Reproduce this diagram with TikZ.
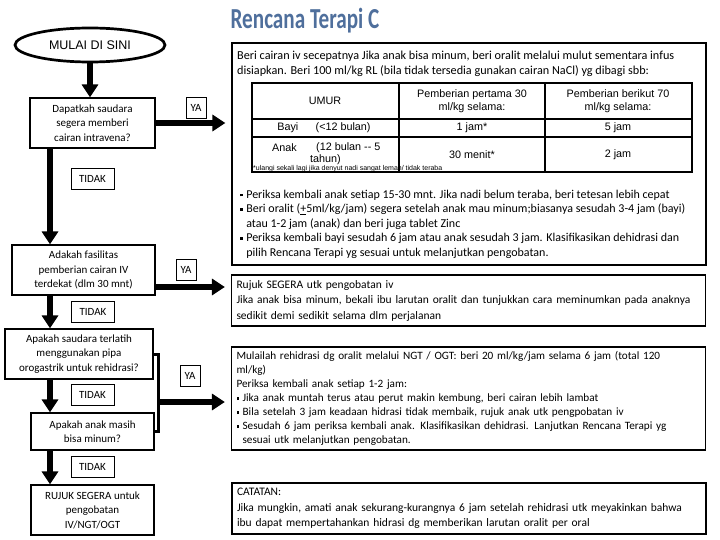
\documentclass[tikz,border=0pt]{standalone}
\usepackage{fontspec}
\setmainfont{Carlito}
\newfontfamily\arialf{Liberation Sans}
\newfontfamily\titlef[FakeStretch=0.73]{Carlito}
\usetikzlibrary{arrows.meta,shapes.geometric}
\definecolor{titleblue}{RGB}{79,111,156}
\newcommand{\sqbul}{\raisebox{0.3ex}{\rule{2.6pt}{2.6pt}}\hspace{3.5pt}}
\begin{document}
\begin{tikzpicture}[x=1pt,y=-1pt,
  lbox/.style={draw,line width=1.2pt,inner sep=0pt,align=center,font=\fontsize{11}{14.5}\selectfont},
  rbox/.style={draw,line width=1.2pt,inner xsep=5pt,inner ysep=0pt,align=left,text width=464pt,font=\fontsize{11.5}{15.5}\selectfont},
  lbl/.style={draw,line width=0.8pt,inner sep=0pt,minimum height=21pt,font=\fontsize{11}{13}\selectfont},
  yalbl/.style={lbl,minimum width=20pt},
  tidlbl/.style={lbl,minimum width=43pt},
  bigarrow/.style={line width=5.5pt,-{Triangle[length=13pt,width=16pt]}},
  tcell/.style={font=\arialf\fontsize{10.8}{13}\selectfont,align=center,inner sep=0pt},
  ttext/.style={anchor=north west,inner sep=0pt,align=left}
]
\useasboundingbox (0,0) rectangle (720,540);

% title
\node[font=\titlef\bfseries\fontsize{29}{31}\selectfont,text=titleblue] (title) at (305,21) {Rencana Terapi C};

% start ellipse
\node[ellipse,draw,line width=2.7pt,minimum width=150pt,minimum height=34pt,inner sep=0pt,font=\arialf\fontsize{12.5}{14}\selectfont] (start) at (90,45) {MULAI DI SINI};

% left boxes
\node[lbox,minimum width=125pt,minimum height=50pt] (b1) at (92.5,123) {Dapatkah saudara\\segera memberi\\cairan intravena?};
\node[lbox,minimum width=143pt,minimum height=50pt] (b2) at (83.5,270) {Adakah fasilitas\\pemberian cairan IV\\terdekat (dlm 30 mnt)};
\node[lbox,minimum width=148pt,minimum height=50pt] (b3) at (79,354) {Apakah saudara terlatih\\menggunakan pipa\\orogastrik untuk rehidrasi?};
\node[lbox,minimum width=123pt,minimum height=37pt] (b4) at (92.5,431.5) {Apakah anak masih\\bisa minum?};
\node[lbox,minimum width=123pt,minimum height=50pt] (b5) at (92.5,510) {RUJUK SEGERA untuk\\pengobatan\\IV/NGT/OGT};

% right boxes
\node[draw,line width=1.2pt,minimum width=474pt,minimum height=222pt,inner sep=0pt] (r1) at (469,154) {};
\node[rbox,minimum height=51pt] (r2) at (468.5,300.5) {Rujuk SEGERA utk pengobatan iv\\Jika anak bisa minum, bekali ibu larutan oralit dan tunjukkan cara meminumkan pada anaknya\\sedikit demi sedikit selama dlm perjalanan};
\node[rbox,minimum height=103pt,font=\fontsize{11.2}{14}\selectfont] (r3) at (468.5,398.5) {Mulailah rehidrasi dg oralit melalui NGT / OGT: beri 20 ml/kg/jam selama 6 jam (total 120\\ml/kg)\\Periksa kembali anak setiap 1-2 jam:\\\sqbul Jika anak muntah terus atau perut makin kembung, beri cairan lebih lambat\\\sqbul Bila setelah 3 jam keadaan hidrasi tidak membaik, rujuk anak utk pengpobatan iv\\\sqbul Sesudah 6 jam periksa kembali anak. Klasifikasikan dehidrasi. Lanjutkan Rencana Terapi yg\\\hspace*{6.1pt}sesuai utk melanjutkan pengobatan.};
\node[rbox,minimum height=51pt] (r4) at (469,508.5) {CATATAN:\\Jika mungkin, amati anak sekurang-kurangnya 6 jam setelah rehidrasi utk meyakinkan bahwa\\ibu dapat mempertahankan hidrasi dg memberikan larutan oralit per oral};

% r1 content
\node[ttext,font=\fontsize{12.2}{15}\selectfont] (r1top) at (237,50.5) {Beri cairan iv secepatnya Jika anak bisa minum, beri oralit melalui mulut sementara infus\\disiapkan. Beri 100 ml/kg RL (bila tidak tersedia gunakan cairan NaCl) yg dibagi sbb:};
\node[ttext,font=\fontsize{12}{14.5}\selectfont] (r1bul) at (240,189.5) {\sqbul Periksa kembali anak setiap 15-30 mnt. Jika nadi belum teraba, beri tetesan lebih cepat\\\sqbul Beri oralit (\underline{+}5ml/kg/jam) segera setelah anak mau minum;biasanya sesudah 3-4 jam (bayi)\\\hspace*{6.1pt}atau 1-2 jam (anak) dan beri juga tablet Zinc\\\sqbul Periksa kembali bayi sesudah 6 jam atau anak sesudah 3 jam. Klasifikasikan dehidrasi dan\\\hspace*{6.1pt}pilih Rencana Terapi yg sesuai untuk melanjutkan pengobatan.};

% table
\node[anchor=west,font=\arialf\fontsize{7}{8}\selectfont,inner sep=0pt] (foot) at (253,168.5) {*ulangi sekali lagi jika denyut nadi sangat lemah/ tidak teraba};
\draw[line width=1.8pt] (252,83) rectangle (692,172);
\draw[line width=1.8pt] (399,83) -- (399,172) (545,83) -- (545,172) (252,119) -- (692,119) (252,137) -- (692,137);
\node[tcell] (h1) at (325,101) {UMUR};
\node[tcell] (h2) at (472,101) {Pemberian pertama 30\\ml/kg selama:};
\node[tcell] (h3) at (618,101) {Pemberian berikut 70\\ml/kg selama:};
\node[tcell] (c11) at (324,128) {Bayi\hspace{1.6em}(<12 bulan)};
\node[tcell] (c12) at (472,128) {1 jam*};
\node[tcell] (c13) at (618,128) {5 jam};
\node[tcell,anchor=west] (c21a) at (272,148) {Anak};
\node[tcell,anchor=west] (c21b) at (316,148) {(12 bulan -- 5};
\node[tcell,anchor=west] (c21c) at (310,160) {tahun)};
\node[tcell] (c22) at (472,155) {30 menit*};
\node[tcell] (c23) at (618,155) {2 jam};

% labels
\node[yalbl] (ya1) at (196,108) {YA};
\node[yalbl] (ya2) at (186,270) {YA};
\node[yalbl] (ya3) at (190,376) {YA};
\node[tidlbl] (t1) at (92.5,179) {TIDAK};
\node[tidlbl] (t2) at (93,312) {TIDAK};
\node[tidlbl] (t3) at (92.5,395) {TIDAK};
\node[tidlbl] (t4) at (92.5,467) {TIDAK};

% connectors
\coordinate (colx) at (50,0);
\draw[bigarrow] (start.south) -- (start.south |- b1.north);
\draw[bigarrow] (b1.south -| colx) -- (b2.north -| colx);
\draw[bigarrow] (b2.south -| colx) -- (b3.north -| colx);
\draw[bigarrow] (b3.south -| colx) -- (b4.north -| colx);
\draw[bigarrow] (b4.south -| colx) -- (b5.north -| colx);
\draw[bigarrow,shorten >=6pt] (b1.east) -- (b1.east -| r1.west);
\draw[bigarrow,shorten >=6pt] ([yshift=-17pt]b2.east) coordinate (a3s) -- (a3s -| r2.west);
\coordinate (bm) at (158,402);
\draw[line width=3pt] (b3.east) -| (bm) |- (b4.east);
\draw[bigarrow,shorten >=6pt] (bm) -- (bm -| r3.west);
\end{tikzpicture}
\end{document}
